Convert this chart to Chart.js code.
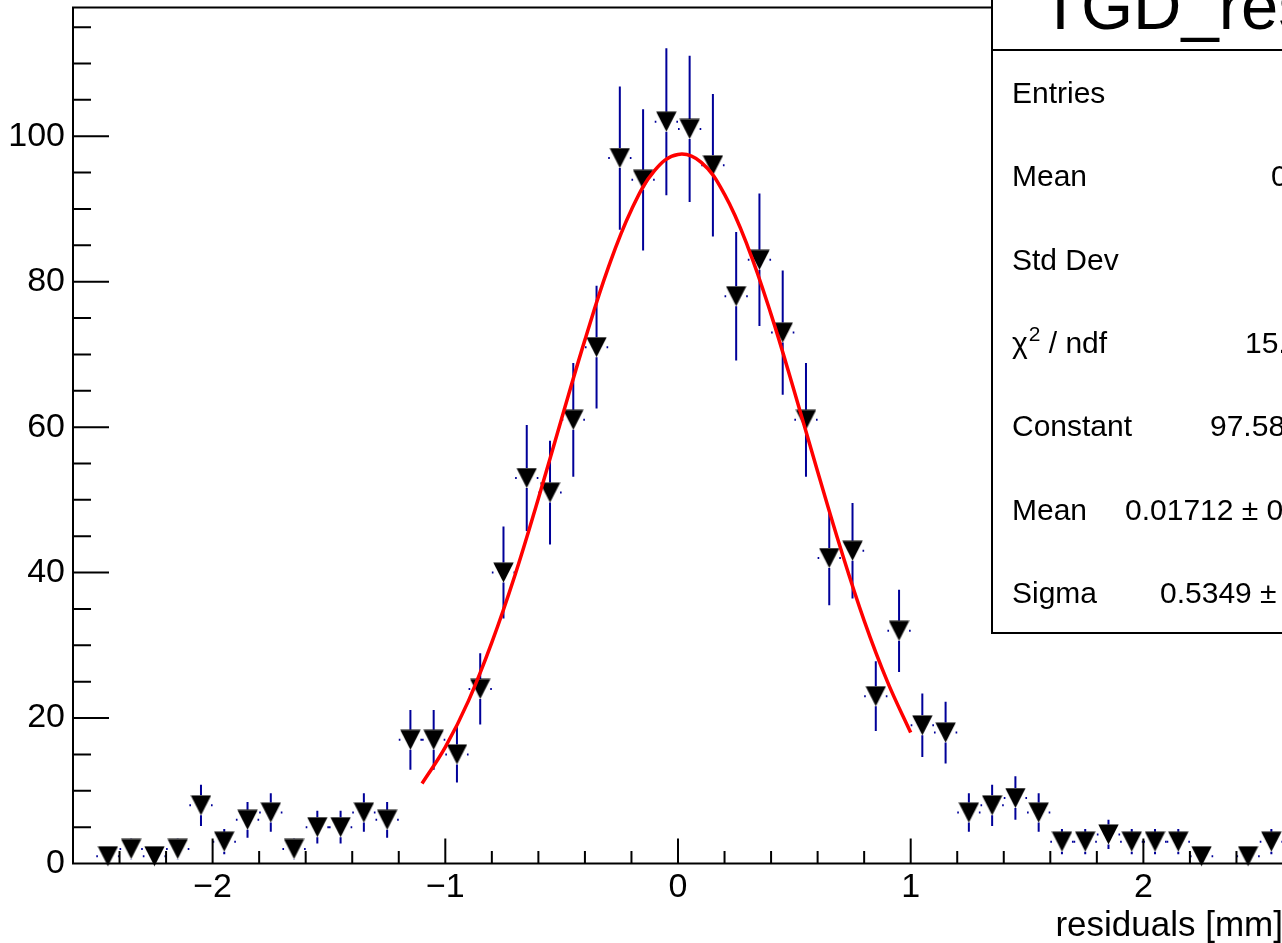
<!DOCTYPE html>
<html>
<head>
<meta charset="utf-8">
<script src="https://cdn.jsdelivr.net/npm/chart.js@4"></script>
<style>
  html, body { margin: 0; padding: 0; background: #fff; overflow: hidden; }
  canvas { display: block; }
</style>
</head>
<body>
<canvas id="residuals__chart" width="1283" height="943" style="width:1283px;height:943px"></canvas>
<script>

// histogram bins (width 0.1)
const binCenters = [-2.45, -2.35, -2.25, -2.15, -2.05, -1.95, -1.85, -1.75, -1.65, -1.55,
  -1.45, -1.35, -1.25, -1.15, -1.05, -0.95, -0.85, -0.75, -0.65, -0.55,
  -0.45, -0.35, -0.25, -0.15, -0.05, 0.05, 0.15, 0.25, 0.35, 0.45,
  0.55, 0.65, 0.75, 0.85, 0.95, 1.05, 1.15, 1.25, 1.35, 1.45,
  1.55, 1.65, 1.75, 1.85, 1.95, 2.05, 2.15, 2.25, 2.35, 2.45, 2.55];
const binCounts = [1, 2, 1, 2, 8, 3, 6, 7, 2, 5,
  5, 7, 6, 17, 17, 15, 24, 40, 53, 51,
  61, 71, 97, 94, 102, 101, 96, 78, 83, 73,
  61, 42, 43, 23, 32, 19, 18, 7, 8, 9,
  7, 3, 3, 4, 3, 3, 3, 1, 0, 1, 3];
const binWidth = 0.1;

// gaus fit curve
const fitX = [-1.1, -1.0, -0.9, -0.8, -0.7, -0.6, -0.5, -0.4, -0.3, -0.2, -0.1,
  0.0, 0.1, 0.2, 0.3, 0.4, 0.5, 0.6, 0.7, 0.8, 0.9, 1.0];
const fitY = [11.0, 16.0, 22.4, 30.4, 39.7, 50.2, 61.2, 72.0, 81.9, 89.9, 95.3,
  97.5, 96.4, 92.0, 84.8, 75.5, 64.9, 53.9, 43.2, 33.4, 25.0, 18.0];

const xTickValues = [-2, -1, 0, 1, 2];
const yTickValues = [0, 20, 40, 60, 80, 100];

// stats box (right part is cut off in the picture)
const statsTitle = 'TGD_res';
const statsLabels = ['Entries', 'Mean', 'Std Dev', 'χ2 / ndf', 'Constant', 'Mean', 'Sigma'];
const statsValues = ['', '0', '', '15.', '97.58', '0.01712 \u00b1 0', '0.5349 \u00b1'];
const statsValueX = [0, 1271, 0, 1245, 1210, 1125, 1160];


document.addEventListener('DOMContentLoaded', function () {

  const FONT = "'Liberation Sans', Arial, Helvetica, sans-serif";
  const BLUE = '#000099';

  // down triangle marker (root style 23)
  let marker = document.createElement('canvas');
  marker.width = 21;
  marker.height = 21;
  let mctx = marker.getContext('2d');
  mctx.fillStyle = '#000';
  mctx.beginPath();
  mctx.moveTo(0.3, 0.6);
  mctx.lineTo(20.7, 0.6);
  mctx.lineTo(10.5, 20.6);
  mctx.closePath();
  mctx.fill();

  let points = [];
  binCenters.forEach(function (c, i) {
    if (binCounts[i] > 0) points.push({ x: c, y: binCounts[i] });
  });
  let fitPoints = fitX.map(function (x, i) { return { x: x, y: fitY[i] }; });

  const errorBars = {
    id: 'errorBars',
    beforeDatasetsDraw: function (chart) {
      let ctx = chart.ctx, xs = chart.scales.x, ys = chart.scales.y;
      let gap = 10;
      ctx.save();
      ctx.strokeStyle = BLUE;
      ctx.lineWidth = 2;
      binCenters.forEach(function (c, i) {
        let n = binCounts[i];
        if (!n) return;
        let err = Math.sqrt(n);
        let px = xs.getPixelForValue(c), py = ys.getPixelForValue(n);
        let top = ys.getPixelForValue(n + err), bot = ys.getPixelForValue(n - err);
        let left = xs.getPixelForValue(c - binWidth / 2), right = xs.getPixelForValue(c + binWidth / 2);
        ctx.beginPath();
        if (top < py - gap) { ctx.moveTo(px, top); ctx.lineTo(px, py - gap); }
        if (bot > py + gap) { ctx.moveTo(px, py + gap); ctx.lineTo(px, bot); }
        if (left < px - gap) { ctx.moveTo(left, py); ctx.lineTo(px - gap, py); }
        if (right > px + gap) { ctx.moveTo(px + gap, py); ctx.lineTo(right, py); }
        ctx.stroke();
      });
      ctx.restore();
    }
  };

  const frame = {
    id: 'frame',
    afterDatasetsDraw: function (chart) {
      let ctx = chart.ctx, a = chart.chartArea, xs = chart.scales.x, ys = chart.scales.y;
      ctx.save();
      ctx.strokeStyle = '#000';
      ctx.lineWidth = 2;
      ctx.beginPath();
      ctx.moveTo(a.right, a.top);
      ctx.lineTo(a.left, a.top);
      ctx.lineTo(a.left, a.bottom);
      ctx.lineTo(a.right, a.bottom);
      // x ticks, inward
      for (let k = -13; k <= 13; k++) {
        let v = k * 0.2;
        let major = Math.abs(v - Math.round(v)) < 1e-6;
        let px = xs.getPixelForValue(v);
        if (px <= a.left + 1 || px >= a.right - 1) continue;
        ctx.moveTo(px, a.bottom);
        ctx.lineTo(px, a.bottom - (major ? 25 : 12.5));
      }
      // y ticks, inward
      for (let v = 5; v < ys.max; v += 5) {
        let major = v % 20 === 0;
        let py = ys.getPixelForValue(v);
        ctx.moveTo(a.left, py);
        ctx.lineTo(a.left + (major ? 36 : 18), py);
      }
      ctx.stroke();
      ctx.restore();
    }
  };

  const statsBox = {
    id: 'statsBox',
    afterDraw: function (chart) {
      let ctx = chart.ctx;
      let left = 992, bottom = 633;
      ctx.save();
      ctx.fillStyle = '#fff';
      ctx.fillRect(left, -10, 400, bottom + 10);
      ctx.strokeStyle = '#000';
      ctx.lineWidth = 2;
      ctx.strokeRect(left, -10, 400, bottom + 10);
      ctx.beginPath();
      ctx.moveTo(left, 50);
      ctx.lineTo(left + 400, 50);
      ctx.stroke();

      ctx.fillStyle = '#000';
      ctx.textBaseline = 'alphabetic';
      ctx.textAlign = 'left';
      ctx.font = '67px ' + FONT;
      ctx.fillText(statsTitle, 1040, 29);

      statsLabels.forEach(function (label, i) {
        let y = 103 + i * 83.3;
        ctx.font = '30px ' + FONT;
        if (label.indexOf('χ2') === 0) {
          ctx.fillText('χ', 1012, y);
          let w = ctx.measureText('χ').width;
          ctx.font = '21px ' + FONT;
          ctx.fillText('2', 1012 + w + 1, y - 12);
          let w2 = ctx.measureText('2').width;
          ctx.font = '30px ' + FONT;
          ctx.fillText(label.slice(2), 1012 + w + w2 + 1, y);
        } else {
          ctx.fillText(label, 1012, y);
        }
        if (statsValues[i]) ctx.fillText(statsValues[i], statsValueX[i], y);
      });
      ctx.restore();
    }
  };

  let ctx = document.getElementById('residuals__chart').getContext('2d');
  let residuals__chart = new Chart(ctx, {
    type: 'scatter',
    data: {
      datasets: [{
        type: 'line',
        label: 'gaus',
        data: fitPoints,
        borderColor: '#ff0000',
        borderWidth: 3.5,
        pointRadius: 0,
        tension: 0.4,
        fill: false,
        order: 0
      }, {
        label: 'residuals',
        data: points,
        pointStyle: marker,
        pointRadius: 10,
        clip: false,
        order: 1
      }]
    },
    options: {
      responsive: false,
      animation: false,
      layout: { autoPadding: false, padding: { top: 7.5, left: 0, right: 0, bottom: 0 } },
      plugins: {
        legend: { display: false },
        tooltip: { enabled: false }
      },
      scales: {
        x: {
          type: 'linear',
          min: -2.6,
          max: 2.6,
          grid: { display: false, drawTicks: false },
          border: { display: false },
          afterBuildTicks: function (scale) {
            scale.ticks = xTickValues.map(function (v) { return { value: v }; });
          },
          afterFit: function (scale) {
            scale.height = 79.5;
            scale.paddingLeft = 0;
            scale.paddingRight = 0;
          },
          ticks: {
            color: '#000',
            padding: 4,
            maxRotation: 0,
            autoSkip: false,
            font: { family: FONT, size: 34 },
            callback: function (v) { return String(v).replace('-', '\u2212'); }
          },
          title: {
            display: true,
            text: 'residuals [mm]',
            align: 'end',
            color: '#000',
            padding: { top: 0, bottom: -1 },
            font: { family: FONT, size: 35, lineHeight: 1 }
          }
        },
        y: {
          type: 'linear',
          min: 0,
          max: 117.7,
          grid: { display: false, drawTicks: false },
          border: { display: false },
          afterBuildTicks: function (scale) {
            scale.ticks = yTickValues.map(function (v) { return { value: v }; });
          },
          afterFit: function (scale) {
            scale.width = 73;
            scale.paddingTop = 0;
            scale.paddingBottom = 0;
          },
          ticks: {
            color: '#000',
            padding: 8,
            font: { family: FONT, size: 34 }
          }
        }
      }
    },
    plugins: [errorBars, frame, statsBox]
  });

});
</script>
</body>
</html>
